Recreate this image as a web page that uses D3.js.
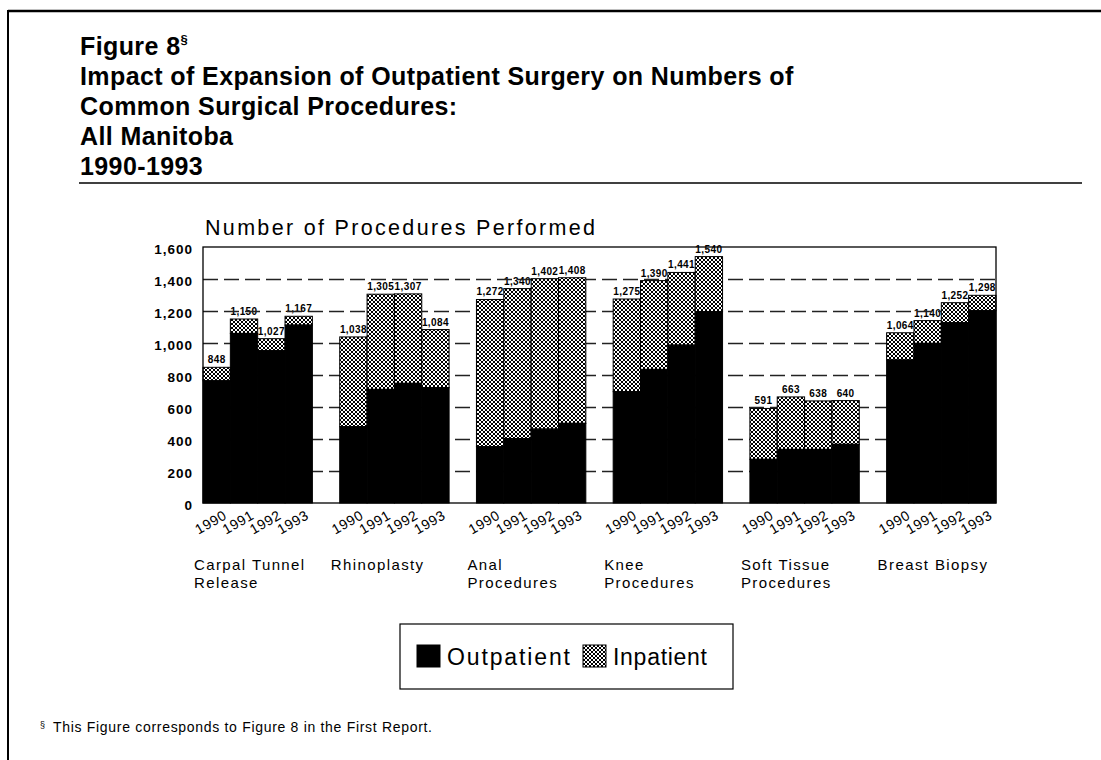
<!DOCTYPE html>
<html>
<head>
<meta charset="utf-8">
<script src="https://cdn.jsdelivr.net/npm/d3@7"></script>
<style>
  html, body { margin: 0; padding: 0; background: #fff; }
  svg { display: block; }
  text { font-family: "Liberation Sans", Arial, Helvetica, sans-serif; fill: #000; }
</style>
</head>
<body>
<svg id="chart" width="1101" height="760"></svg>
<script>
// ---------------- DATA ----------------
const categories = ["Carpal Tunnel Release", "Rhinoplasty", "Anal Procedures", "Knee Procedures", "Soft Tissue Procedures", "Breast Biopsy"];
const categoryLines = [["Carpal Tunnel", "Release"], ["Rhinoplasty"], ["Anal", "Procedures"], ["Knee", "Procedures"], ["Soft Tissue", "Procedures"], ["Breast Biopsy"]];
const years = ["1990", "1991", "1992", "1993"];
// total procedures (labelled on top of each bar)
const totals = [
  [848, 1150, 1027, 1167],
  [1038, 1305, 1307, 1084],
  [1272, 1340, 1402, 1408],
  [1275, 1390, 1441, 1540],
  [591, 663, 638, 640],
  [1064, 1140, 1252, 1298]
];
// outpatient procedures
const outpatient = [
  [764, 1060, 952, 1112],
  [477, 710, 748, 721],
  [352, 402, 462, 498],
  [696, 835, 987, 1196],
  [273, 335, 335, 367],
  [894, 998, 1127, 1202]
];
const yTicks = [0, 200, 400, 600, 800, 1000, 1200, 1400, 1600];
const gridTicks = [200, 400, 600, 800, 1000, 1200, 1400];
const seriesNames = ["Outpatient", "Inpatient"];
const titleLines = ["Figure 8", "Impact of Expansion of Outpatient Surgery on Numbers of", "Common Surgical Procedures:", "All Manitoba", "1990-1993"];
const yTitle = "Number of Procedures Performed";
const footnote = "This Figure corresponds to Figure 8 in the First Report.";

// ---------------- BUILD ----------------
const svg = d3.select("#chart");
const defs = svg.append("defs");
const pat = defs.append("pattern").attr("id", "hatch")
  .attr("width", 4).attr("height", 4).attr("patternUnits", "userSpaceOnUse");
pat.append("rect").attr("width", 4).attr("height", 4).attr("fill", "#fff");
pat.append("path").attr("d", "M0,0L4,4M4,0L0,4M-1,1L1,-1M3,5L5,3M-1,3L1,5M3,-1L5,1")
  .attr("stroke", "#000").attr("stroke-width", 1);

svg.append("rect").attr("width", 1101).attr("height", 760).attr("fill", "#fff");

// outer frame (top + left)
svg.append("line").attr("x1", 8).attr("x2", 1101).attr("y1", 11).attr("y2", 11)
  .attr("stroke", "#000").attr("stroke-width", 2.5);
svg.append("line").attr("x1", 8).attr("x2", 8).attr("y1", 10).attr("y2", 760)
  .attr("stroke", "#000").attr("stroke-width", 2);

// title
const titleG = svg.append("g");
titleLines.forEach((t, i) => {
  const tx = titleG.append("text").attr("x", 80).attr("y", 55 + i * 30)
    .attr("font-size", 25).attr("font-weight", "bold").attr("letter-spacing", 0.4).text(t);
  if (i === 0) tx.append("tspan").attr("font-size", 13).attr("dy", -11).text("§");
});
svg.append("line").attr("x1", 79).attr("x2", 1082).attr("y1", 183).attr("y2", 183)
  .attr("stroke", "#000").attr("stroke-width", 1.5);

// scales
const pLeft = 203, pRight = 996, pTop = 247, pBottom = 503;
const x0 = d3.scaleBand().domain(categories).range([pLeft, pRight]).paddingInner(0.2).paddingOuter(0);
const x1 = d3.scaleBand().domain(years).range([0, x0.bandwidth()]).padding(0);
const y = d3.scaleLinear().domain([0, 1600]).range([pBottom, pTop]);

// y title
svg.append("text").attr("x", 205).attr("y", 235).attr("font-size", 21.5)
  .attr("textLength", 390).attr("lengthAdjust", "spacing").text(yTitle);

// total labels (drawn under the gridlines, as in the original)
const labG = svg.append("g");
categories.forEach((c, gi) => {
  years.forEach((yr, yi) => {
    labG.append("text")
      .attr("x", x0(c) + x1(yr) + x1.bandwidth() / 2)
      .attr("y", y(totals[gi][yi]) - 4)
      .attr("text-anchor", "middle").attr("font-size", 10).attr("font-weight", "bold")
      .attr("letter-spacing", 0.4)
      .text(d3.format(",")(totals[gi][yi]));
  });
});

// gridlines
const grid = svg.append("g").attr("transform", `translate(${pLeft},0)`)
  .call(d3.axisLeft(y).tickValues(gridTicks).tickSize(-(pRight - pLeft)).tickFormat(""));
grid.select(".domain").remove();
grid.selectAll("line").attr("stroke", "#222").attr("stroke-width", 1.3).attr("stroke-dasharray", "15,6");

// bars
const barG = svg.append("g");
categories.forEach((c, gi) => {
  years.forEach((yr, yi) => {
    const bx = x0(c) + x1(yr);
    const o = outpatient[gi][yi];
    const tot = totals[gi][yi];
    barG.append("rect").attr("x", bx).attr("width", x1.bandwidth())
      .attr("y", y(tot)).attr("height", y(o) - y(tot))
      .attr("fill", "url(#hatch)").attr("stroke", "#000").attr("stroke-width", 1);
    barG.append("rect").attr("x", bx).attr("width", x1.bandwidth())
      .attr("y", y(o)).attr("height", y(0) - y(o))
      .attr("fill", "#000").attr("stroke", "#000").attr("stroke-width", 1);
  });
});

// frame
svg.append("rect").attr("x", pLeft).attr("y", pTop).attr("width", pRight - pLeft).attr("height", pBottom - pTop)
  .attr("fill", "none").attr("stroke", "#000").attr("stroke-width", 1.3);

// y axis labels
const yAx = svg.append("g").attr("transform", `translate(${pLeft},0)`)
  .call(d3.axisLeft(y).tickValues(yTicks).tickSize(0).tickPadding(10).tickFormat(d3.format(",")));
yAx.select(".domain").remove();
yAx.selectAll("text").attr("font-size", 13.5).attr("font-weight", "bold").attr("letter-spacing", 1)
  .attr("font-family", "'Liberation Sans', Arial, sans-serif").attr("dy", "0.45em").attr("fill", "#000");

// year labels
const yrG = svg.append("g");
categories.forEach((c) => {
  years.forEach((yr) => {
    const cx = x0(c) + x1(yr) + x1.bandwidth() / 2 + 11;
    yrG.append("text").attr("transform", `translate(${cx},518) rotate(-30)`)
      .attr("text-anchor", "end").attr("font-size", 14).attr("letter-spacing", 0.6).text(yr);
  });
});

// category labels
categories.forEach((c, gi) => {
  categoryLines[gi].forEach((ln, li) => {
    svg.append("text").attr("x", x0(c) - 9).attr("y", 570 + li * 18)
      .attr("font-size", 15).attr("letter-spacing", 1.4).text(ln);
  });
});

// legend
const lg = svg.append("g");
lg.append("rect").attr("x", 400).attr("y", 624).attr("width", 333).attr("height", 65)
  .attr("fill", "#fff").attr("stroke", "#000").attr("stroke-width", 1.2);
const legendItems = [
  { name: seriesNames[0], fill: "#000", sx: 417, tx: 447, tw: 123 },
  { name: seriesNames[1], fill: "url(#hatch)", sx: 583, tx: 613, tw: 94 }
];
legendItems.forEach(it => {
  lg.append("rect").attr("x", it.sx).attr("y", 645).attr("width", 23).attr("height", 22)
    .attr("fill", it.fill).attr("stroke", "#000").attr("stroke-width", 1);
  lg.append("text").attr("x", it.tx).attr("y", 665).attr("font-size", 23)
    .attr("textLength", it.tw).attr("lengthAdjust", "spacing").text(it.name);
});

// footnote
const fn = svg.append("text").attr("x", 40).attr("y", 732).attr("font-size", 14);
fn.append("tspan").attr("font-size", 9).attr("dy", -4).text("§");
fn.append("tspan").attr("x", 53).attr("dy", 4).attr("textLength", 379).attr("lengthAdjust", "spacing").text(footnote);
</script>
</body>
</html>
